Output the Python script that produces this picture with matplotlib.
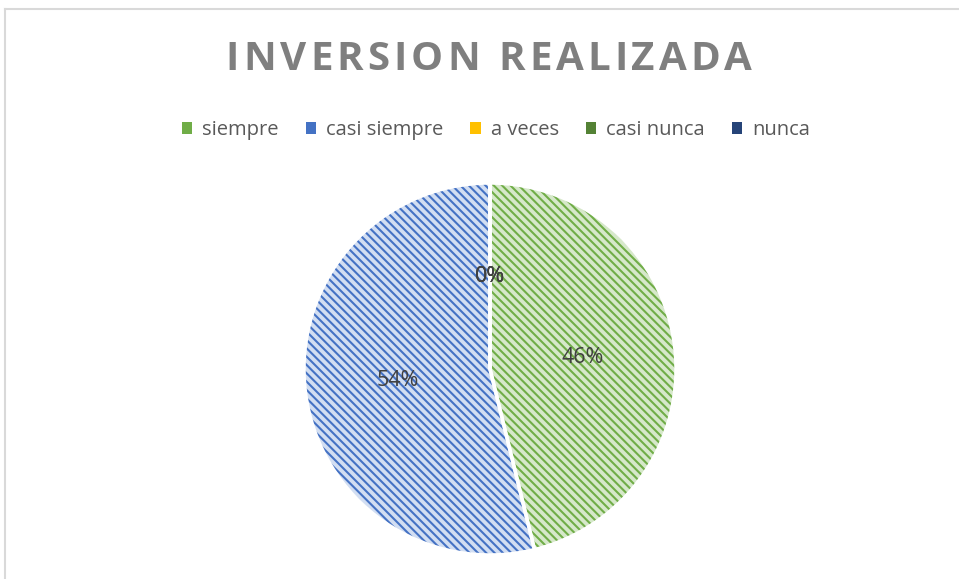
import matplotlib
matplotlib.use("Agg")
import matplotlib.pyplot as plt
from matplotlib.patches import Patch
from matplotlib.lines import Line2D

labels = ["siempre", "casi siempre", "a veces", "casi nunca", "nunca"]
values = [6, 7, 0, 0, 0]
fill_colors = ["#d6e8ca", "#d2def2", "#ffe9a6", "#cbdcbe", "#bfcbe0"]
hatch_colors = ["#70ad47", "#4472c4", "#ffc000", "#548235", "#264478"]
title = "INVERSION REALIZADA"

W, H = 959, 579
fig = plt.figure(figsize=(W / 100, H / 100), dpi=100)
plt.rcParams["hatch.linewidth"] = 1.5

# chart frame (only top and left edges visible)
fig.add_artist(Line2D([5 / W, 1], [1 - 8.5 / H, 1 - 8.5 / H], color="#d9d9d9", lw=1.5))
fig.add_artist(Line2D([5 / W, 5 / W], [0, 1 - 8.5 / H], color="#d9d9d9", lw=1.5))

cx, cy, r = 490, 369, 186
ax = fig.add_axes([(cx - r) / W, (H - cy - r) / H, 2 * r / W, 2 * r / H])

# base fill
ax.pie(values, colors=fill_colors, startangle=90, counterclock=False,
       radius=1, wedgeprops=dict(linewidth=0))
# hatch layer
wedges, _ = ax.pie(values, colors=["none"] * 5, startangle=90, counterclock=False,
                   radius=1, wedgeprops=dict(linewidth=0))
for w, hc in zip(wedges, hatch_colors):
    w.set_facecolor("none")
    w.set_edgecolor(hc)
    w.set_linewidth(0)
    w.set_hatch("\\" * 4)
# white separators + labels
ax.pie(values, colors=["none"] * 5, startangle=90, counterclock=False,
       radius=1, autopct="%1.0f%%", pctdistance=0.5,
       wedgeprops=dict(linewidth=2.5, edgecolor="white", facecolor="none"),
       textprops=dict(color="#404040", fontsize=15.5, family="Open Sans"))
ax.set_xlim(-1, 1)
ax.set_ylim(-1, 1)
ax.set_aspect("equal")

# title with letter spacing
renderer = fig.canvas.get_renderer()
tkw = dict(fontsize=29, fontweight="bold", color="#7f7f7f", family="Open Sans",
           va="center", ha="left")
spacing = 4.0
widths = []
for ch in title:
    t = fig.text(0, 0, ch if ch != " " else "I", **tkw)
    widths.append(t.get_window_extent(renderer).width * (0.8 if ch == " " else 1))
    t.remove()
total = sum(widths) + spacing * (len(title) - 1)
x = 489 - total / 2
for ch, w in zip(title, widths):
    if ch != " ":
        fig.text(x / W, 1 - 60 / H, ch, **tkw)
    x += w + spacing

handles = [Patch(facecolor=hc, edgecolor="none") for hc in hatch_colors]
fig.legend(handles, labels, loc="center", bbox_to_anchor=(496 / W, 1 - 130 / H), ncol=5,
           frameon=False, handlelength=0.5, handleheight=0.5, handletextpad=0.5,
           columnspacing=1.35, prop=dict(family="Open Sans", size=14.5),
           labelcolor="#595959")

fig.savefig("out.png", dpi=100)
